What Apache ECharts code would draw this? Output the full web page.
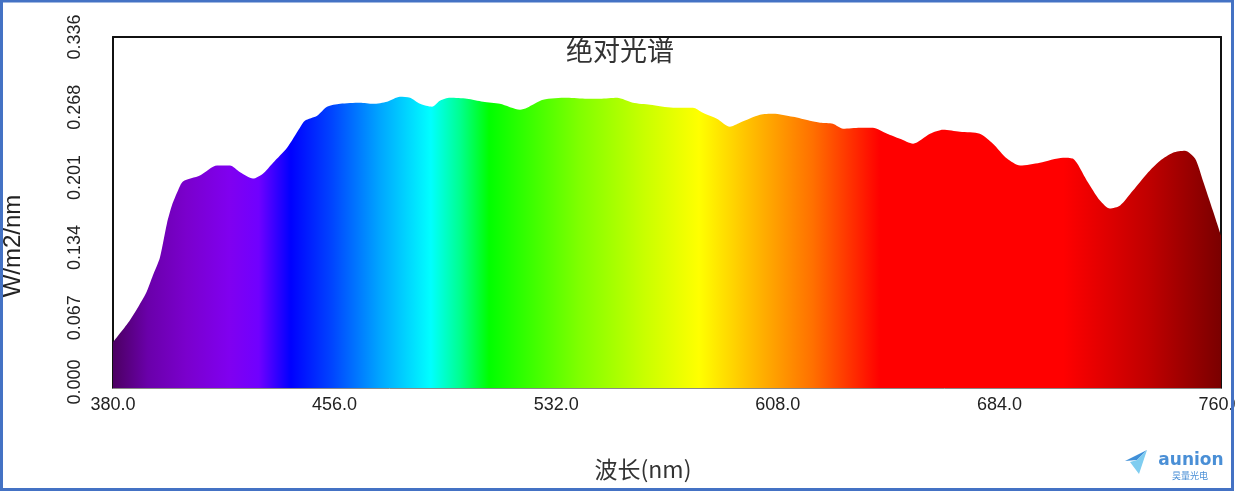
<!DOCTYPE html>
<html>
<head>
<meta charset="utf-8">
<script src="https://cdn.jsdelivr.net/npm/echarts@6/dist/echarts.min.js"></script>
<style>
html,body{margin:0;padding:0;background:#fff;}
#c{width:1235px;height:492px;}
</style>
</head>
<body>
<div id="c"></div>
<script>
// wavelength (nm)
var wavelengths = [380.0,385.8,391.3,393.7,396.1,398.5,400.2,402.3,404.0,409.8,415.7,420.1,423.6,428.0,431.4,434.9,439.7,444.1,445.8,450.0,453.4,457.9,464.7,469.2,474.0,478.4,481.9,485.3,489.4,492.1,495.6,501.4,506.9,512.7,519.6,522.0,527.5,535.7,542.6,547.0,552.9,558.3,564.2,572.1,578.9,582.3,587.1,591.6,595.0,601.9,606.4,613.2,619.0,622.5,626.9,630.4,636.2,640.6,645.5,649.9,654.4,660.2,664.7,670.5,677.3,681.8,686.6,691.1,697.9,705.8,709.2,714.0,718.5,721.9,725.4,729.8,734.6,739.1,743.5,747.6,751.1,753.8,757.2,760.0];
// irradiance (W/m2/nm)
var irradiance = [0.0439,0.0649,0.0907,0.1079,0.1250,0.1575,0.1747,0.1890,0.1976,0.2033,0.2129,0.2129,0.2065,0.2005,0.2052,0.2157,0.2300,0.2491,0.2558,0.2606,0.2692,0.2720,0.2730,0.2720,0.2740,0.2788,0.2778,0.2720,0.2692,0.2750,0.2778,0.2769,0.2740,0.2720,0.2663,0.2683,0.2759,0.2778,0.2769,0.2769,0.2778,0.2730,0.2711,0.2683,0.2683,0.2635,0.2577,0.2501,0.2539,0.2615,0.2625,0.2596,0.2558,0.2539,0.2530,0.2482,0.2491,0.2491,0.2434,0.2386,0.2339,0.2434,0.2472,0.2453,0.2434,0.2339,0.2196,0.2129,0.2157,0.2205,0.2196,0.1985,0.1795,0.1718,0.1747,0.1890,0.2052,0.2176,0.2253,0.2272,0.2196,0.1985,0.1699,0.1460];
var xTickLabels = ['380.0','456.0','532.0','608.0','684.0','760.0'];
var yTickLabels = ['0.000','0.067','0.134','0.201','0.268','0.336'];

var X_MIN = 380, X_MAX = 760, X_STEP = 76;
var Y_MIN = 0, Y_MAX = 0.336, Y_STEP = 0.0672;

// spectrum colour stops (wavelength -> colour)
var spectrumStops = [
  [380,'#4c0062'],[392,'#6a00aa'],[405,'#7a00cc'],[420,'#8000f0'],[430,'#7000ff'],
  [441,'#0000ff'],[455,'#0044ff'],[472,'#00a8ff'],[489,'#00ffff'],[499,'#00ff90'],
  [509,'#00ff00'],[540,'#80ff00'],[562,'#c8ff00'],[581,'#ffff00'],[598,'#ffc000'],
  [620,'#ff7000'],[643,'#ff0000'],[706,'#ff0000'],[735,'#c00000'],[760,'#7a0000']
];

var data = wavelengths.map(function(w,i){return [w, irradiance[i]];});
var colorStops = spectrumStops.map(function(s){
  return {offset:(s[0]-X_MIN)/(X_MAX-X_MIN), color:s[1]};
});

var chart = echarts.init(document.getElementById('c'));
var labelFont = 'Liberation Sans, Arial, sans-serif';
var cjkFont = '"Noto Sans CJK SC", sans-serif';

chart.setOption({
  animation:false,
  backgroundColor:'#fff',
  grid:{left:113,right:14,top:37,bottom:104,containLabel:false,outerBoundsMode:'none'},
  xAxis:[{
    type:'value',min:X_MIN,max:X_MAX,interval:X_STEP,
    axisLine:{show:true,lineStyle:{color:'#8a8a8a',width:1}},
    axisTick:{show:false},splitLine:{show:false},
    axisLabel:{show:true,margin:8,fontSize:18,color:'#222',fontFamily:labelFont,
      showMinLabel:true,showMaxLabel:true,hideOverlap:false,
      formatter:function(v){return xTickLabels[Math.round((v-X_MIN)/X_STEP)];}}
  },{
    type:'value',min:X_MIN,max:X_MAX,position:'top',
    axisLine:{show:true,onZero:false,lineStyle:{color:'#111',width:2}},
    axisTick:{show:false},axisLabel:{show:false},splitLine:{show:false}
  }],
  yAxis:[{
    type:'value',min:Y_MIN,max:Y_MAX,interval:Y_STEP,
    axisLine:{show:true,lineStyle:{color:'#111',width:2}},
    axisTick:{show:false},splitLine:{show:false},
    axisLabel:{show:true,rotate:90,margin:29,fontSize:18,color:'#222',fontFamily:labelFont,
      showMinLabel:true,showMaxLabel:true,
      formatter:function(v){
        var i=Math.round((v-Y_MIN)/Y_STEP);
        return i===0 ? '{m|'+yTickLabels[i]+'}' : yTickLabels[i];
      },
      rich:{m:{fontSize:18,color:'#222',fontFamily:labelFont,padding:[0,0,0,12]}}}
  },{
    type:'value',min:Y_MIN,max:Y_MAX,position:'right',
    axisLine:{show:true,onZero:false,lineStyle:{color:'#111',width:2}},
    axisTick:{show:false},axisLabel:{show:false},splitLine:{show:false}
  }],
  series:[{
    type:'line',xAxisIndex:0,yAxisIndex:0,data:data,
    symbol:'none',smooth:0.25,
    lineStyle:{width:0},
    areaStyle:{opacity:1,color:{type:'linear',x:0,y:0,x2:1,y2:0,colorStops:colorStops}},
    z:1
  }],
  graphic:[
    {type:'text',x:620,y:51,z:10,style:{text:'绝对光谱',font:'27px '+cjkFont,fill:'#333',align:'center',verticalAlign:'middle'}},
    {type:'text',x:643,y:469,z:10,style:{text:'波长(nm)',font:'23px '+cjkFont,fill:'#333',align:'center',verticalAlign:'middle'}},
    {type:'text',x:13,y:246,rotation:Math.PI/2,z:10,style:{text:'W/m2/nm',font:'24px '+labelFont,fill:'#222',align:'center',verticalAlign:'middle'}},
    // watermark logo
    {type:'polygon',z:10,shape:{points:[[1125,461],[1147,450],[1137,460]]},style:{fill:'#3f8fd8'}},
    {type:'polygon',z:10,shape:{points:[[1130,462],[1137,460],[1147,450],[1139,474]]},style:{fill:'#7fcdf0'}},
    {type:'text',x:1191,y:461,z:10,style:{text:'aunion',font:'bold 17px "DejaVu Sans", sans-serif',fill:'#4a8fd6',align:'center',verticalAlign:'middle'}},
    {type:'text',x:1190,y:476,z:10,style:{text:'昊量光电',font:'9px '+cjkFont,fill:'#4a8fd6',align:'center',verticalAlign:'middle'}},
    // outer frame
    {type:'rect',z:20,shape:{x:1.5,y:1,width:1231,height:488.5},style:{fill:'none',stroke:'#4472c4',lineWidth:3}}
  ]
});
</script>
</body>
</html>
